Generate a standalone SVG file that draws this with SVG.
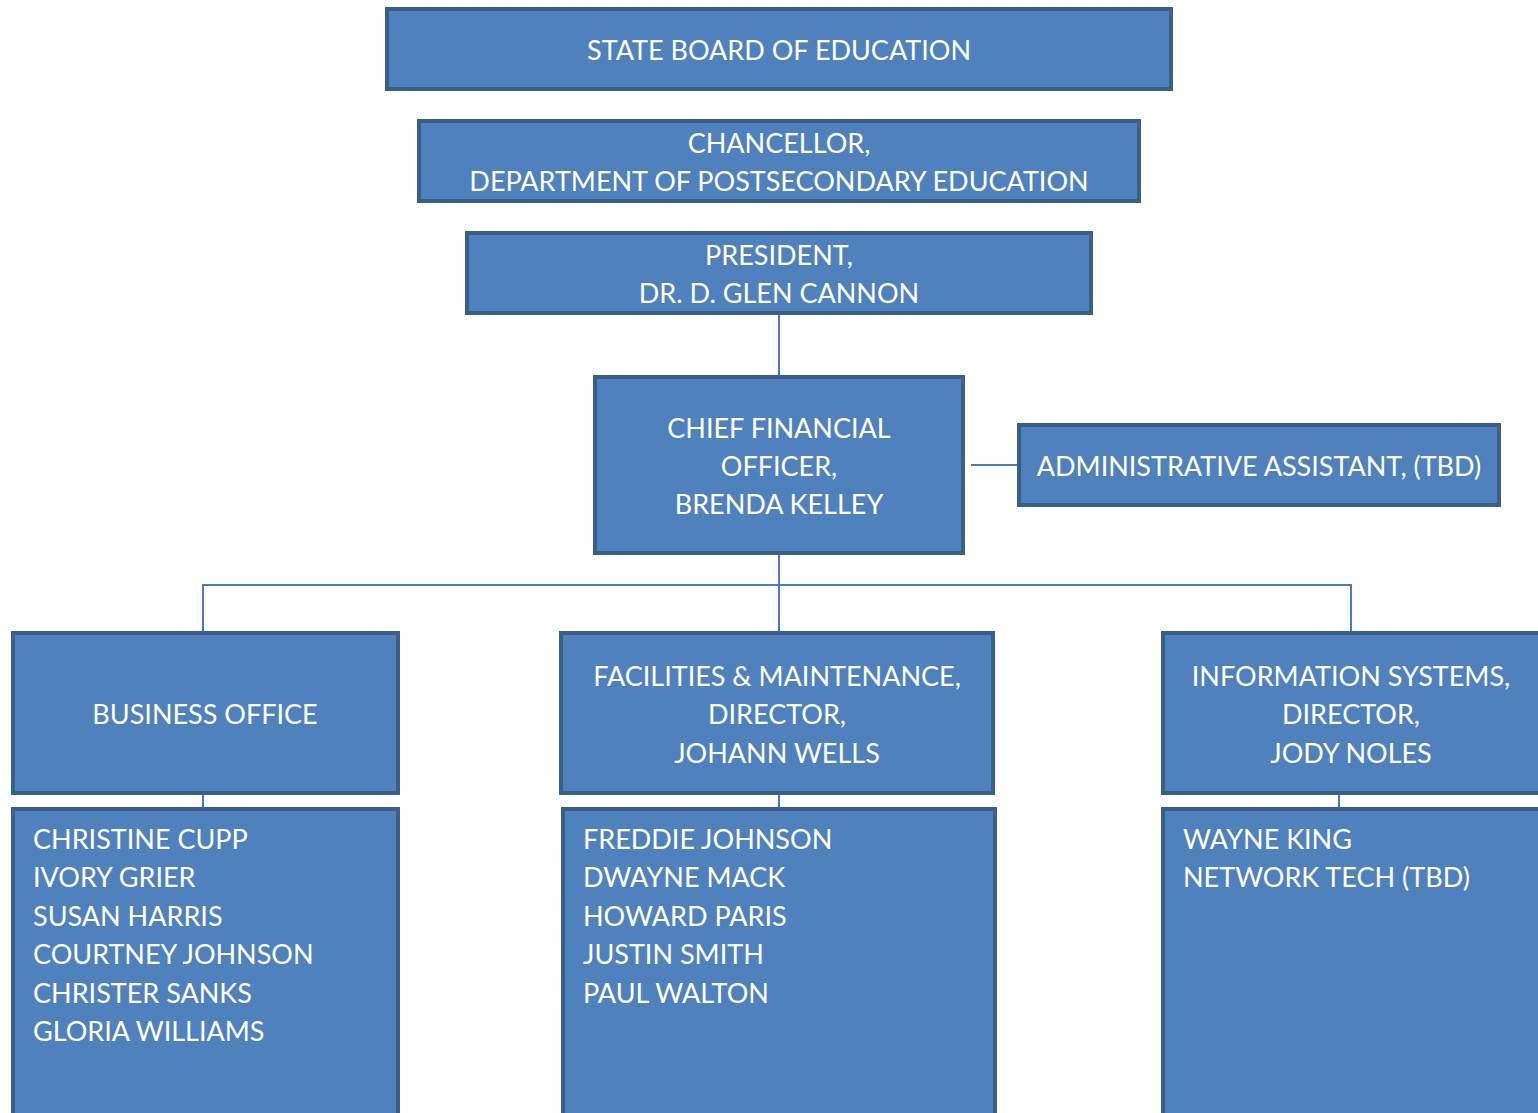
<svg xmlns="http://www.w3.org/2000/svg" width="1538" height="1113" viewBox="0 0 1538 1113">
<style>
.box{fill:#4F81BD;stroke:#3A5F8B;stroke-width:4}
.t{font-family:Lato,"Open Sans",sans-serif;font-size:27px;fill:#FFFFFF}
.c{text-anchor:middle}
.ln{stroke:#4A7EBB;stroke-width:2;fill:none}
</style>
<rect width="1538" height="1113" fill="#FFFFFF"/>
<g id="connectors">
<line class="ln" x1="779" y1="314" x2="779" y2="376"/>
<line class="ln" x1="971" y1="465" x2="1018" y2="465"/>
<line class="ln" x1="779" y1="554" x2="779" y2="632"/>
<polyline class="ln" points="203,632 203,585 1351,585 1351,632"/>
<line class="ln" x1="203" y1="794" x2="203" y2="808"/>
<line class="ln" x1="779" y1="794" x2="779" y2="823"/>
<line class="ln" x1="1339" y1="794" x2="1339" y2="822"/>
</g>
<g id="state-board">
<rect class="box" x="387" y="9" width="784" height="80"/>
<text class="t c" x="779" y="60">STATE BOARD OF EDUCATION</text>
</g>
<g id="chancellor">
<rect class="box" x="419" y="121" width="720" height="80"/>
<text class="t c" x="779" y="153">CHANCELLOR,</text>
<text class="t c" x="779" y="191">DEPARTMENT OF POSTSECONDARY EDUCATION</text>
</g>
<g id="president">
<rect class="box" x="467" y="233" width="624" height="80"/>
<text class="t c" x="779" y="265">PRESIDENT,</text>
<text class="t c" x="779" y="303">DR. D. GLEN CANNON</text>
</g>
<g id="cfo">
<rect class="box" x="595" y="377" width="368" height="176"/>
<text class="t c" x="779" y="438">CHIEF FINANCIAL</text>
<text class="t c" x="779" y="476">OFFICER,</text>
<text class="t c" x="779" y="514">BRENDA KELLEY</text>
</g>
<g id="admin-assistant">
<rect class="box" x="1019" y="425" width="480" height="80"/>
<text class="t c" x="1259" y="476">ADMINISTRATIVE ASSISTANT, (TBD)</text>
</g>
<g id="business-office">
<rect class="box" x="13" y="633" width="385" height="160"/>
<text class="t c" x="205" y="724">BUSINESS OFFICE</text>
</g>
<g id="facilities">
<rect class="box" x="561" y="633" width="432" height="160"/>
<text class="t c" x="777" y="686">FACILITIES &amp; MAINTENANCE,</text>
<text class="t c" x="777" y="724">DIRECTOR,</text>
<text class="t c" x="777" y="763">JOHANN WELLS</text>
</g>
<g id="information-systems">
<rect class="box" x="1163" y="633" width="390" height="160"/>
<text class="t c" x="1351" y="686">INFORMATION SYSTEMS,</text>
<text class="t c" x="1351" y="724">DIRECTOR,</text>
<text class="t c" x="1351" y="763">JODY NOLES</text>
</g>
<g id="business-staff">
<rect class="box" x="13" y="809" width="385" height="320"/>
<text class="t" x="33" y="849">CHRISTINE CUPP</text>
<text class="t" x="33" y="887">IVORY GRIER</text>
<text class="t" x="33" y="926">SUSAN HARRIS</text>
<text class="t" x="33" y="964">COURTNEY JOHNSON</text>
<text class="t" x="33" y="1003">CHRISTER SANKS</text>
<text class="t" x="33" y="1041">GLORIA WILLIAMS</text>
</g>
<g id="facilities-staff">
<rect class="box" x="563" y="809" width="432" height="320"/>
<text class="t" x="583" y="849">FREDDIE JOHNSON</text>
<text class="t" x="583" y="887">DWAYNE MACK</text>
<text class="t" x="583" y="926">HOWARD PARIS</text>
<text class="t" x="583" y="964">JUSTIN SMITH</text>
<text class="t" x="583" y="1003">PAUL WALTON</text>
</g>
<g id="is-staff">
<rect class="box" x="1163" y="809" width="390" height="320"/>
<text class="t" x="1183" y="849">WAYNE KING</text>
<text class="t" x="1183" y="887">NETWORK TECH (TBD)</text>
</g>
</svg>
